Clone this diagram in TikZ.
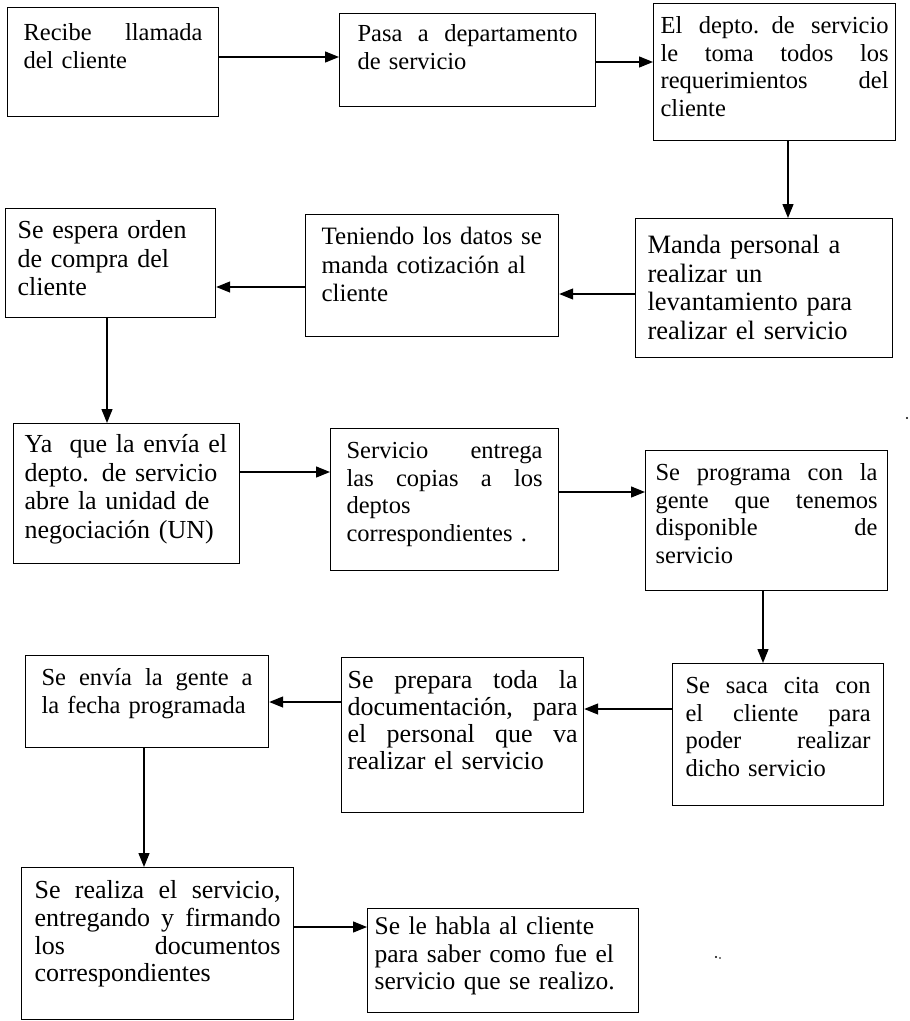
\documentclass[tikz,border=0pt]{standalone}
\usepackage{fontspec}
\setmainfont{Liberation Serif}
\usetikzlibrary{arrows.meta}
\newcommand\J[1]{\makebox[\linewidth][s]{\spaceskip=.25em plus 1fil\relax #1}}
\begin{document}
\begin{tikzpicture}[x=1pt,y=-1pt,
  pbox/.style={draw, line width=1.2pt, inner ysep=0pt, align=left, anchor=north west,
    font=\fontsize{24.5}{27.5}\selectfont},
  fs/.style 2 args={font=\fontsize{#1}{#2}\selectfont},
  flow/.style={line width=1.3pt, -{Triangle[length=14pt,width=11pt]}}]
\fill[white] (0,0) rectangle (910,1021);
\useasboundingbox (0,0) rectangle (910,1021);
% row 1
\node[pbox, inner xsep=16pt, text width=179pt, text height=33pt, text depth=76pt] (n1) at (7,7)
  {\J{Recibe llamada}\\ del cliente};
\node[pbox, inner xsep=18pt, text width=220pt, text height=28pt, text depth=65pt] (n2) at (339,13)
  {\J{Pasa a departamento}\\ de servicio};
\node[pbox, inner xsep=7pt, text width=228pt, text height=30pt, text depth=107pt] (n3) at (653,3)
  {\J{El depto. de servicio}\\ \J{le toma todos los}\\ \J{requerimientos del}\\ cliente};
% row 2
\node[pbox, fs={26.5}{28.5}, inner xsep=12pt, text width=233pt, text height=35pt, text depth=104pt] (n4) at (635,218)
  {Manda personal a\\ realizar un\\ levantamiento para\\ realizar el servicio};
\node[pbox, fs={25}{28.5}, inner xsep=16pt, text width=221pt, text height=30pt, text depth=92pt] (n5) at (305,214)
  {Teniendo los datos se\\ manda cotización al\\ cliente};
\node[pbox, fs={26}{28.5}, inner xsep=12pt, text width=186pt, text height=30pt, text depth=79pt] (n6) at (5,208)
  {Se espera orden\\ de compra del\\ cliente};
% row 3
\node[pbox, fs={26}{28.5}, inner xsep=11pt, text width=204pt, text height=29pt, text depth=111pt] (n7) at (13,423)
  {Ya\ \ que la envía el\\ depto. de servicio\\ abre la unidad de\\ negociación (UN)};
\node[pbox, inner xsep=16pt, text width=196pt, text height=30pt, text depth=112pt] (n8) at (330,428)
  {\J{Servicio entrega}\\ \J{las copias a los}\\ deptos\\ correspondientes .};
\node[pbox, inner xsep=10pt, text width=222pt, text height=30pt, text depth=110pt] (n9) at (645,450)
  {\J{Se programa con la}\\ \J{gente que tenemos}\\ \J{disponible de}\\ servicio};
% row 4
\node[pbox, inner xsep=13pt, text width=185pt, text height=30pt, text depth=112pt] (n10) at (672,663)
  {\J{Se saca cita con}\\ \J{el cliente para}\\ \J{poder realizar}\\ dicho servicio};
\node[pbox, fs={26}{27}, inner xsep=6pt, text width=230pt, text height=31pt, text depth=124pt] (n11) at (341,657)
  {\J{Se prepara toda la}\\ \J{documentación, para}\\ \J{el personal que va}\\ realizar el servicio};
\node[pbox, inner xsep=16pt, text width=211pt, text height=30pt, text depth=62pt] (n12) at (25,655)
  {\J{Se envía la gente a}\\ la fecha programada};
% row 5
\node[pbox, fs={26}{27.7}, inner xsep=13pt, text width=246pt, text height=31pt, text depth=121pt] (n13) at (21,867)
  {\J{Se realiza el servicio,}\\ \J{entregando y firmando}\\ \J{los documentos}\\ correspondientes};
\node[pbox, fs={25.5}{27.5}, inner xsep=7pt, text width=257pt, text height=26pt, text depth=78pt] (n14) at (367,908)
  {Se le habla al cliente\\ para saber como fue el\\ servicio que se realizo.};
% connectors
\draw[flow] (n1.east |- 0,57) -- (n2.west |- 0,57);
\draw[flow] (n2.east |- 0,62) -- (n3.west |- 0,62);
\draw[flow] (n3.south -| 788,0) -- (n4.north -| 788,0);
\draw[flow] (n4.west |- 0,294) -- (n5.east |- 0,294);
\draw[flow] (n5.west |- 0,287) -- (n6.east |- 0,287);
\draw[flow] (n6.south -| 107,0) -- (n7.north -| 107,0);
\draw[flow] (n7.east |- 0,472) -- (n8.west |- 0,472);
\draw[flow] (n8.east |- 0,492) -- (n9.west |- 0,492);
\draw[flow] (n9.south -| 763,0) -- (n10.north -| 763,0);
\draw[flow] (n10.west |- 0,709) -- (n11.east |- 0,709);
\draw[flow] (n11.west |- 0,702) -- (n12.east |- 0,702);
\draw[flow] (n12.south -| 144,0) -- (n13.north -| 144,0);
\draw[flow] (n13.east |- 0,927) -- (n14.west |- 0,927);
% scan specks
\fill (716,957) circle (1.2pt);
\fill (720,958) circle (0.9pt);
\fill (907,418) circle (1.1pt);
\end{tikzpicture}
\end{document}
